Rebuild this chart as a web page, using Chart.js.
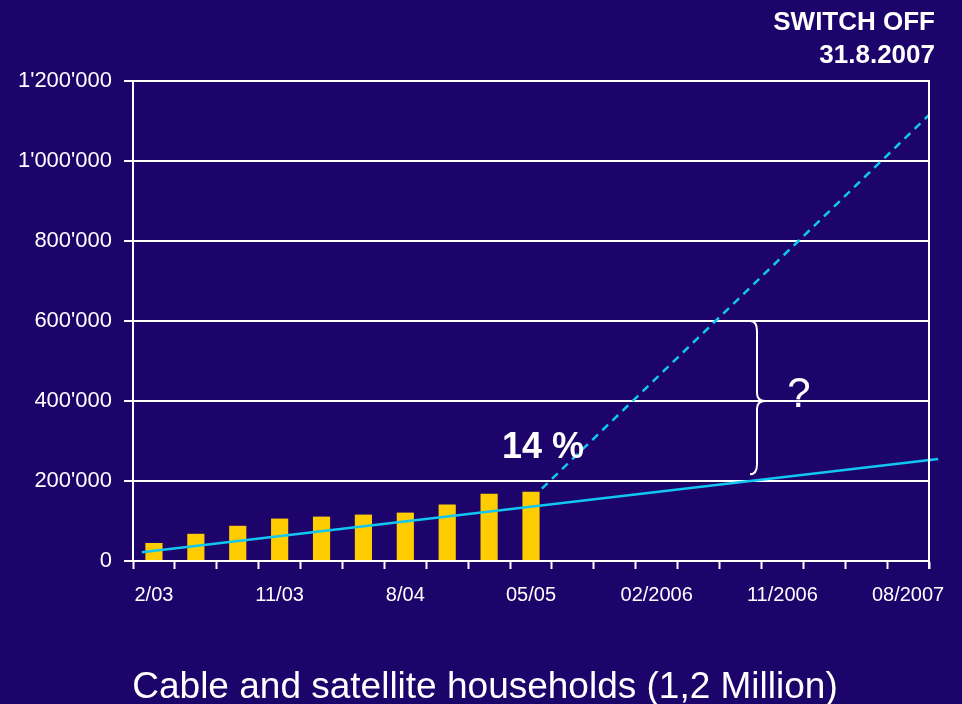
<!DOCTYPE html>
<html lang="en">
<head>
    <meta charset="UTF-8">
    <title>Cable and satellite households</title>
    <script src="https://cdn.jsdelivr.net/npm/chart.js"></script>
    <style>
        html, body { margin: 0; padding: 0; background: #1d046b; }
        canvas { display: block; }
    </style>
</head>
<body>
    <canvas id="switchChart" width="962" height="704"></canvas>

    <script>
        // quarters on the x axis (only every third one gets a label)
        const quarters = ['2/03', '5/03', '8/03', '11/03', '2/04', '5/04', '8/04', '11/04', '2/05', '05/05',
                          '8/05', '11/05', '02/2006', '5/06', '8/06', '11/2006', '2/07', '5/07', '08/2007'];
        const shownLabels = ['2/03', '11/03', '8/04', '05/05', '02/2006', '11/2006', '08/2007'];

        // households per quarter
        const households = [45000, 68000, 88000, 106000, 111000, 116000, 121000, 141000, 168000, 173000];

        // solid trend line, start and end point (x in quarter index)
        const trendX = [-0.29, 18.72];
        const trendY = [22000, 255000];

        // dashed line needed for switch off
        const neededX = [9.26, 18.5];
        const neededY = [181000, 1115000];

        const yTicks = [0, 200000, 400000, 600000, 800000, 1000000, 1200000];

        const FONT = '"Liberation Sans", Arial, Helvetica, sans-serif';
        const BG = '#1d046b';
        const CYAN = '#12c6f2';

        function points(xs, ys) {
            return xs.map((x, i) => ({ x: x, y: ys[i] }));
        }

        function fmt(v) {
            return String(v).replace(/\B(?=(\d{3})+(?!\d))/g, "'");
        }

        // background, border, brace and free texts
        const decor = {
            id: 'decor',
            beforeDraw(chart) {
                const c = chart.ctx;
                c.save();
                c.fillStyle = BG;
                c.fillRect(0, 0, chart.width, chart.height);
                c.restore();
            },
            afterDraw(chart) {
                const c = chart.ctx;
                const a = chart.chartArea;
                const y = chart.scales.y;
                c.save();

                // right border of the plot
                c.strokeStyle = '#ffffff';
                c.lineWidth = 2;
                c.beginPath();
                c.moveTo(a.right, a.top - 1);
                c.lineTo(a.right, a.bottom + 8);
                c.stroke();

                // curly brace between the two lines
                const y1 = y.getPixelForValue(600000);
                const y2 = y.getPixelForValue(400000);
                const y3 = y.getPixelForValue(217000);
                const bx = 757;
                c.lineWidth = 2;
                c.beginPath();
                c.moveTo(bx - 7, y1);
                c.quadraticCurveTo(bx, y1, bx, y1 + 10);
                c.lineTo(bx, y2 - 8);
                c.quadraticCurveTo(bx, y2, bx + 8, y2);
                c.quadraticCurveTo(bx, y2, bx, y2 + 8);
                c.lineTo(bx, y3 - 10);
                c.quadraticCurveTo(bx, y3, bx - 7, y3);
                c.stroke();

                c.fillStyle = '#ffffff';
                c.textBaseline = 'alphabetic';

                c.font = '42px ' + FONT;
                c.textAlign = 'center';
                c.fillText('?', 799, 407);

                c.font = 'bold 36px ' + FONT;
                c.textAlign = 'left';
                c.fillText('14 %', 502, 458);

                c.font = 'bold 26px ' + FONT;
                c.textAlign = 'right';
                c.fillText('SWITCH OFF', 935, 30);
                c.fillText('31.8.2007', 935, 63);

                c.font = '37px ' + FONT;
                c.textAlign = 'center';
                c.fillText('Cable and satellite households (1,2 Million)', 485, 698);

                c.restore();
            }
        };

        new Chart(document.getElementById('switchChart'), {
            type: 'bar',
            data: {
                labels: quarters,
                datasets: [
                    {
                        label: 'Households',
                        data: households,
                        backgroundColor: '#ffcc00',
                        borderWidth: 0,
                        grouped: false,
                        categoryPercentage: 1,
                        barPercentage: 0.41,
                        order: 2
                    },
                    {
                        type: 'line',
                        label: 'Trend',
                        xAxisID: 'x2',
                        data: points(trendX, trendY),
                        borderColor: CYAN,
                        borderWidth: 2.5,
                        pointRadius: 0,
                        clip: false,
                        order: 1
                    },
                    {
                        type: 'line',
                        label: 'Needed',
                        xAxisID: 'x2',
                        data: points(neededX, neededY),
                        borderColor: CYAN,
                        borderWidth: 2.5,
                        borderDash: [8, 6],
                        pointRadius: 0,
                        clip: false,
                        order: 1
                    }
                ]
            },
            options: {
                responsive: false,
                animation: false,
                layout: { padding: { left: 0, top: 81, right: 33, bottom: 93 } },
                plugins: {
                    legend: { display: false },
                    tooltip: { enabled: false }
                },
                scales: {
                    x: {
                        offset: true,
                        grid: {
                            offset: true,
                            drawOnChartArea: false,
                            drawTicks: true,
                            tickLength: 8,
                            tickColor: '#ffffff',
                            tickWidth: 2
                        },
                        border: { color: '#ffffff', width: 2 },
                        ticks: {
                            autoSkip: false,
                            maxRotation: 0,
                            color: '#ffffff',
                            font: { family: FONT, size: 20 },
                            padding: 14,
                            callback: function (v, i) {
                                const lab = quarters[i];
                                return shownLabels.includes(lab) ? lab : '';
                            }
                        },
                        afterFit(scale) { scale.height = 50; }
                    },
                    x2: {
                        type: 'linear',
                        display: false,
                        offset: false,
                        grid: { offset: false },
                        min: -0.5,
                        max: 18.5
                    },
                    y: {
                        min: 0,
                        max: 1200000,
                        afterBuildTicks(scale) {
                            scale.ticks = yTicks.map(v => ({ value: v }));
                        },
                        grid: {
                            color: '#ffffff',
                            lineWidth: 2,
                            tickLength: 9,
                            tickColor: '#ffffff'
                        },
                        border: { color: '#ffffff', width: 2 },
                        ticks: {
                            color: '#ffffff',
                            font: { family: FONT, size: 22 },
                            padding: 12,
                            callback: v => fmt(v)
                        },
                        afterFit(scale) { scale.width = 133; }
                    }
                }
            },
            plugins: [decor]
        });
    </script>
</body>
</html>
